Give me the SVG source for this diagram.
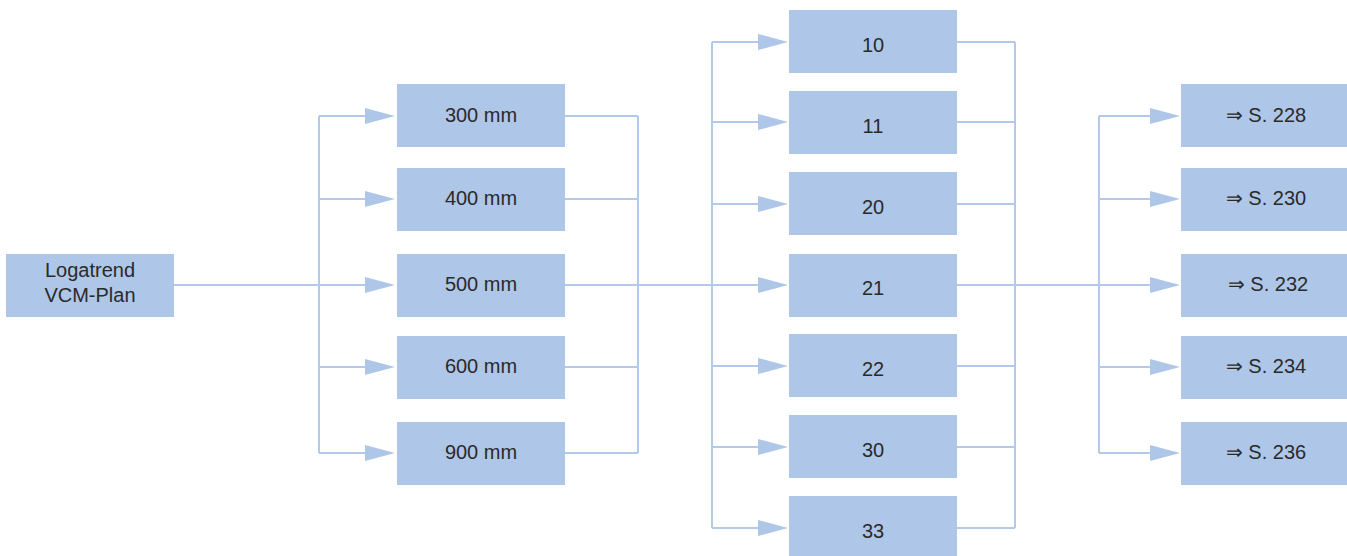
<svg xmlns="http://www.w3.org/2000/svg" width="1347" height="556" viewBox="0 0 1347 556">
<defs>
<style>
.n rect{fill:#aec6e7;}
.n text{font-family:"Liberation Sans",Arial,sans-serif;font-size:20px;fill:#2a2a2a;text-anchor:middle;}
.c path{fill:none;stroke:#b3c9ea;stroke-width:2;}
.c polygon{fill:#aec6e7;}
</style>
</defs>
<rect width="1347" height="556" fill="#ffffff"/>
<g id="connectors" class="c">
<path d="M174 285H365M319 116V453M319 116H365M319 199H365M319 367H365M319 453H365"/>
<polygon points="365,277 395,285 365,293"/>
<polygon points="365,108 395,116 365,124"/>
<polygon points="365,191 395,199 365,207"/>
<polygon points="365,359 395,367 365,375"/>
<polygon points="365,445 395,453 365,461"/>
<path d="M565 116H638M565 199H638M565 285H758M565 367H638M565 453H638M638 116V453"/>
<path d="M712 42V528M712 42H758M712 122H758M712 204H758M712 366H758M712 447H758M712 528H758"/>
<polygon points="758,34 788,42 758,50"/>
<polygon points="758,114 788,122 758,130"/>
<polygon points="758,196 788,204 758,212"/>
<polygon points="758,277 788,285 758,293"/>
<polygon points="758,358 788,366 758,374"/>
<polygon points="758,439 788,447 758,455"/>
<polygon points="758,520 788,528 758,536"/>
<path d="M957 42H1015M957 122H1015M957 204H1015M957 285H1150M957 366H1015M957 447H1015M957 528H1015M1015 42V528"/>
<path d="M1099 116V453M1099 116H1150M1099 199H1150M1099 367H1150M1099 453H1150"/>
<polygon points="1150,108 1180,116 1150,124"/>
<polygon points="1150,191 1180,199 1150,207"/>
<polygon points="1150,277 1180,285 1150,293"/>
<polygon points="1150,359 1180,367 1150,375"/>
<polygon points="1150,445 1180,453 1150,461"/>
</g>
<g id="n-start" class="n"><rect x="6" y="254" width="168" height="63"/><text x="90" y="277">Logatrend</text><text x="90" y="302">VCM-Plan</text></g>
<g id="n-300" class="n"><rect x="397" y="84" width="168" height="63"/><text x="481" y="122">300 mm</text></g>
<g id="n-400" class="n"><rect x="397" y="168" width="168" height="63"/><text x="481" y="205">400 mm</text></g>
<g id="n-500" class="n"><rect x="397" y="254" width="168" height="63"/><text x="481" y="291">500 mm</text></g>
<g id="n-600" class="n"><rect x="397" y="336" width="168" height="63"/><text x="481" y="373">600 mm</text></g>
<g id="n-900" class="n"><rect x="397" y="422" width="168" height="63"/><text x="481" y="459">900 mm</text></g>
<g id="n-10" class="n"><rect x="789" y="10" width="168" height="63"/><text x="873" y="52">10</text></g>
<g id="n-11" class="n"><rect x="789" y="91" width="168" height="63"/><text x="873" y="133">11</text></g>
<g id="n-20" class="n"><rect x="789" y="172" width="168" height="63"/><text x="873" y="214">20</text></g>
<g id="n-21" class="n"><rect x="789" y="254" width="168" height="63"/><text x="873" y="295">21</text></g>
<g id="n-22" class="n"><rect x="789" y="334" width="168" height="63"/><text x="873" y="376">22</text></g>
<g id="n-30" class="n"><rect x="789" y="415" width="168" height="63"/><text x="873" y="457">30</text></g>
<g id="n-33" class="n"><rect x="789" y="496" width="168" height="60"/><text x="873" y="538">33</text></g>
<g id="n-228" class="n"><rect x="1181" y="84" width="166" height="63"/><text x="1266" y="122">⇒ S. 228</text></g>
<g id="n-230" class="n"><rect x="1181" y="168" width="166" height="63"/><text x="1266" y="205">⇒ S. 230</text></g>
<g id="n-232" class="n"><rect x="1181" y="254" width="166" height="63"/><text x="1268" y="291">⇒ S. 232</text></g>
<g id="n-234" class="n"><rect x="1181" y="336" width="166" height="63"/><text x="1266" y="373">⇒ S. 234</text></g>
<g id="n-236" class="n"><rect x="1181" y="422" width="166" height="63"/><text x="1266" y="459">⇒ S. 236</text></g>
</svg>
